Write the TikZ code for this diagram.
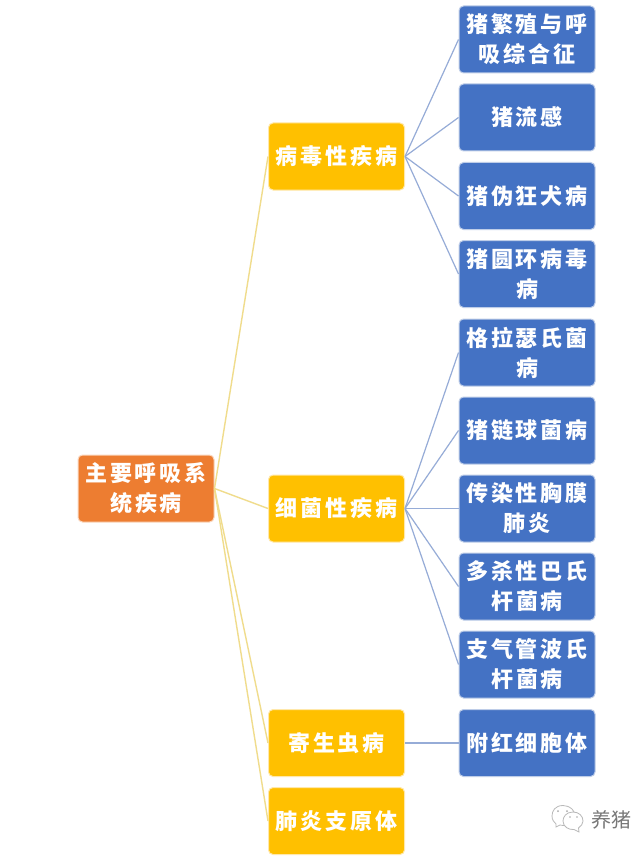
\documentclass[tikz,border=0pt]{standalone}
\usepackage{fontspec}
\newfontfamily\cjk[LetterSpace=13]{Noto Sans CJK SC}
\newfontfamily\cjkw{Noto Sans CJK SC}
\tikzset{
 boxbase/.style={rounded corners=4.5pt,minimum width=136pt,minimum height=67pt,inner sep=0pt,
   align=center,text=white,line width=1pt,font=\cjk\bfseries\fontsize{22}{30}\selectfont},
 bluebox/.style={boxbase,fill={rgb,255:red,68;green,114;blue,196},draw={rgb,255:red,190;green,205;blue,232}},
 yellowbox/.style={boxbase,fill={rgb,255:red,255;green,192;blue,0},draw={rgb,255:red,255;green,232;blue,170}},
 orangebox/.style={boxbase,fill={rgb,255:red,237;green,125;blue,49},draw={rgb,255:red,250;green,215;blue,190}},
 blueline/.style={draw={rgb,255:red,150;green,172;blue,215},line width=1.2pt},
 yellowline/.style={draw={rgb,255:red,240;green,220;blue,140},line width=1.4pt},
 bubble/.style={draw={rgb,255:red,185;green,185;blue,185},line width=.8pt,fill=white},
 eye/.style={fill={rgb,255:red,170;green,170;blue,170},draw=none}
}
\begin{document}
\begin{tikzpicture}[x=1pt,y=-1pt]
\useasboundingbox[fill=white] (0,0) rectangle (637,861);
\node[orangebox] (root) at (146,488.5) {主要呼吸系\\统疾病};
\node[yellowbox] (virus) at (336.5,156.5) {病毒性疾病};
\node[yellowbox] (bact) at (336.5,508.5) {细菌性疾病};
\node[yellowbox] (para) at (336.5,743) {寄生虫病};
\node[yellowbox] (myco) at (336.5,821) {肺炎支原体};
\node[bluebox] (b1) at (527,39.5) {猪繁殖与呼\\吸综合征};
\node[bluebox] (b2) at (527,117.5) {猪流感};
\node[bluebox] (b3) at (527,196) {猪伪狂犬病};
\node[bluebox] (b4) at (527,274) {猪圆环病毒\\病};
\node[bluebox] (b5) at (527,352.5) {格拉瑟氏菌\\病};
\node[bluebox] (b6) at (527,430.5) {猪链球菌病};
\node[bluebox] (b7) at (527,508.5) {传染性胸膜\\肺炎};
\node[bluebox] (b8) at (527,586.5) {多杀性巴氏\\杆菌病};
\node[bluebox] (b9) at (527,664.5) {支气管波氏\\杆菌病};
\node[bluebox] (b10) at (527,743) {附红细胞体};
\foreach \t in {virus,bact,para,myco} \draw[yellowline] (root.east) -- (\t.west);
\foreach \t in {b1,b2,b3,b4} \draw[blueline] (virus.east) -- (\t.west);
\foreach \t in {b5,b6,b7,b8,b9} \draw[blueline] (bact.east) -- (\t.west);
\draw[blueline] (para.east) -- (b10.west);
% watermark
\draw[bubble] (563,805.5) .. controls (555,805.5) and (552,811) .. (552,816) .. controls (552,820) and (554,822) .. (556,824) -- (556,827) -- (560,825) .. controls (564,826) and (568,825.5) .. (571,823) .. controls (575,820) and (576,812) .. (572,809) .. controls (569,806.5) and (566,805.5) .. (563,805.5) -- cycle;
\draw[bubble] (573,812) .. controls (566,812) and (563,817) .. (563,821) .. controls (563,827) and (569,830) .. (574,829.5) -- (579,832) -- (578.5,828) .. controls (581,826) and (583,824) .. (583,821) .. controls (583,816) and (579,812) .. (573,812) -- cycle;
\fill[eye] (558,811) circle (1pt) (567,811) circle (1pt) (570,817) circle (.9pt) (577,817) circle (.9pt);
\node[anchor=west,inner sep=0pt,text={rgb,255:red,120;green,120;blue,120},font=\cjkw\fontsize{20}{22}\selectfont] (wm) at (591,820) {养猪};
\end{tikzpicture}
\end{document}
